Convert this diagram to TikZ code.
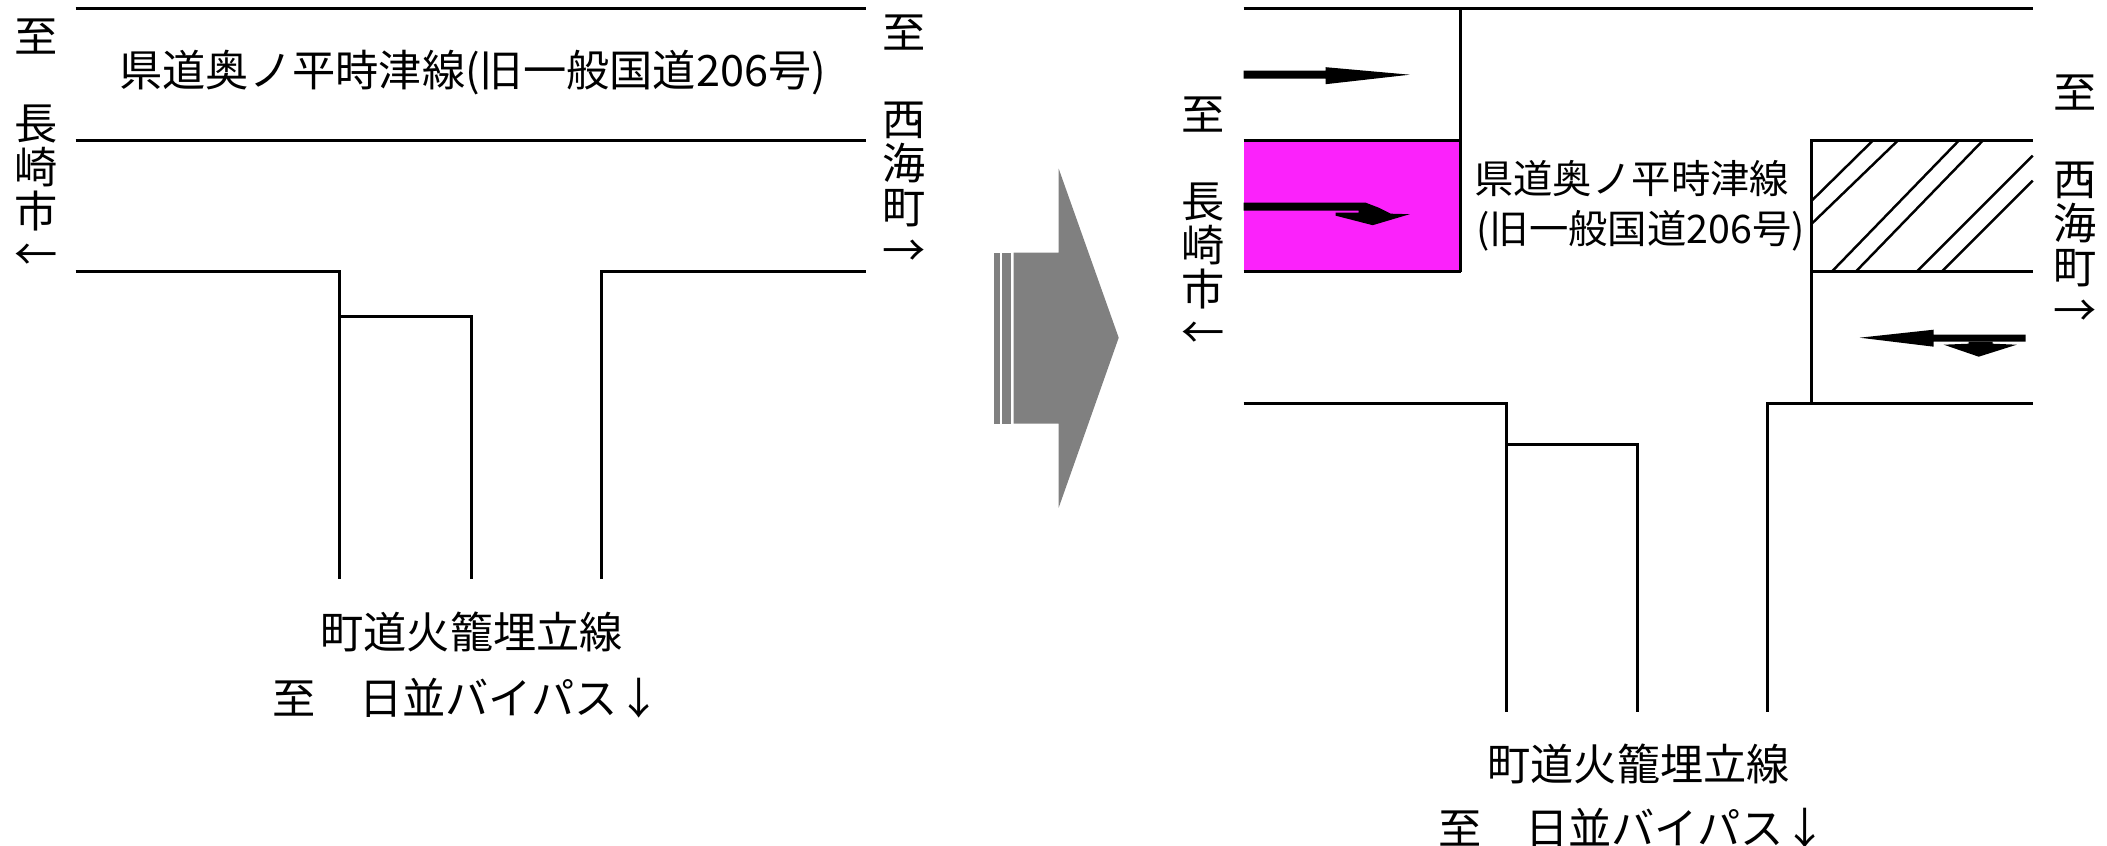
\documentclass[tikz,border=0pt]{standalone}
\usepackage{fontspec}
\setmainfont{Noto Sans CJK JP}
\tikzset{
    road/.style={line width=1.8pt},
    hatch/.style={line width=1.4pt},
    name label/.style={inner sep=0pt, align=center, font=\fontsize{24.6}{24.9}\selectfont},
    short label/.style={inner sep=0pt, align=center, font=\fontsize{22.4}{24.9}\selectfont},
    black arrow/.style={fill=black, draw=none},
    block arrow/.style={fill=arrowgray, draw=none},
}
\definecolor{arrowgray}{HTML}{808080}
\definecolor{closedroad}{HTML}{FB22FB}
\begin{document}
\begin{tikzpicture}[x=0.2mm, y=-0.2mm]
    \useasboundingbox (-0.7,-0.7) rectangle (2106.3,845.3);

    % before
    \draw[road] (75,8) -- (865,8);
    \draw[road] (75,140) -- (865,140);
    \draw[road] (75,271) -- (339,271) -- (339,578);
    \draw[road] (339,316) -- (471,316) -- (471,578);
    \draw[road] (865,271) -- (601,271) -- (601,578);

    \node (routeA) at (472,72) [name label] {県道奥ノ平時津線(旧一般国道206号)};
    \node (nagasakiA) at (35,144) [name label] {至\\~\\長\\崎\\市\\←};
    \node (saikaiA) at (903,140) [name label] {至\\~\\西\\海\\町\\→};
    \node (townA) at (471,631) [name label] {町道火籠埋立線};
    \node (bypassA) at (466,697) [name label] {至　日並バイパス↓};

    % block arrow
    \fill[block arrow] (993,252) rectangle (999,423);
    \fill[block arrow] (1001,252) rectangle (1010,423);
    \fill[block arrow] (1013,252) -- (1058,252) -- (1058,168) -- (1118,337)
        -- (1058,507) -- (1058,423) -- (1013,423) -- cycle;

    % after
    \fill[closedroad] (1243,140) rectangle (1460,271);
    \draw[road] (1243,8) -- (2032,8);
    \draw[road] (1460,8) -- (1460,271);
    \draw[road] (1243,140) -- (1460,140);
    \draw[road] (1243,271) -- (1460,271);
    \draw[road] (1243,403) -- (1506,403) -- (1506,711);
    \draw[road] (1506,444) -- (1637,444) -- (1637,711);
    \draw[road] (2032,403) -- (1767,403) -- (1767,711);
    \draw[road] (2032,140) -- (1811,140) -- (1811,403);
    \draw[hatch] (1811,271) -- (2032,271);

    \draw[hatch] (1872,140) -- (1811,200);
    \draw[hatch] (1897,140) -- (1811,223);
    \draw[hatch] (1958,140) -- (1831,271);
    \draw[hatch] (1982,140) -- (1855,271);
    \draw[hatch] (2032,155) -- (1916,271);
    \draw[hatch] (2032,180) -- (1941,271);

    \fill[black arrow] (1243,70) -- (1325,70) -- (1325,66.5) -- (1409,74)
        -- (1325,83.5) -- (1325,78) -- (1243,78) -- cycle;
    \fill[black arrow] (1243,202) -- (1365,202) -- (1378,207) -- (1390,213)
        -- (1409,213.5) -- (1372,224.5) -- (1335,215) -- (1335,212) -- (1358,212)
        -- (1358,210) -- (1243,210) -- cycle;
    \fill[black arrow] (2025,334) -- (1933,334) -- (1933,329) -- (1859,337)
        -- (1933,346) -- (1933,341) -- (2025,341) -- cycle;
    \fill[black arrow] (1943,344) -- (1968,343) -- (1968,341) -- (1992,341)
        -- (1992,343) -- (2016,344) -- (1978,356) -- cycle;

    \node (routeB) at (1631,178) [short label] {県道奥ノ平時津線};
    \node (routeBold) at (1640,230) [short label] {(旧一般国道206号)};
    \node (nagasakiB) at (1202,222) [name label] {至\\~\\長\\崎\\市\\←};
    \node (saikaiB) at (2074,200) [name label] {至\\~\\西\\海\\町\\→};
    \node (townB) at (1638,763) [name label] {町道火籠埋立線};
    \node (bypassB) at (1632,827) [name label] {至　日並バイパス↓};
\end{tikzpicture}
\end{document}
